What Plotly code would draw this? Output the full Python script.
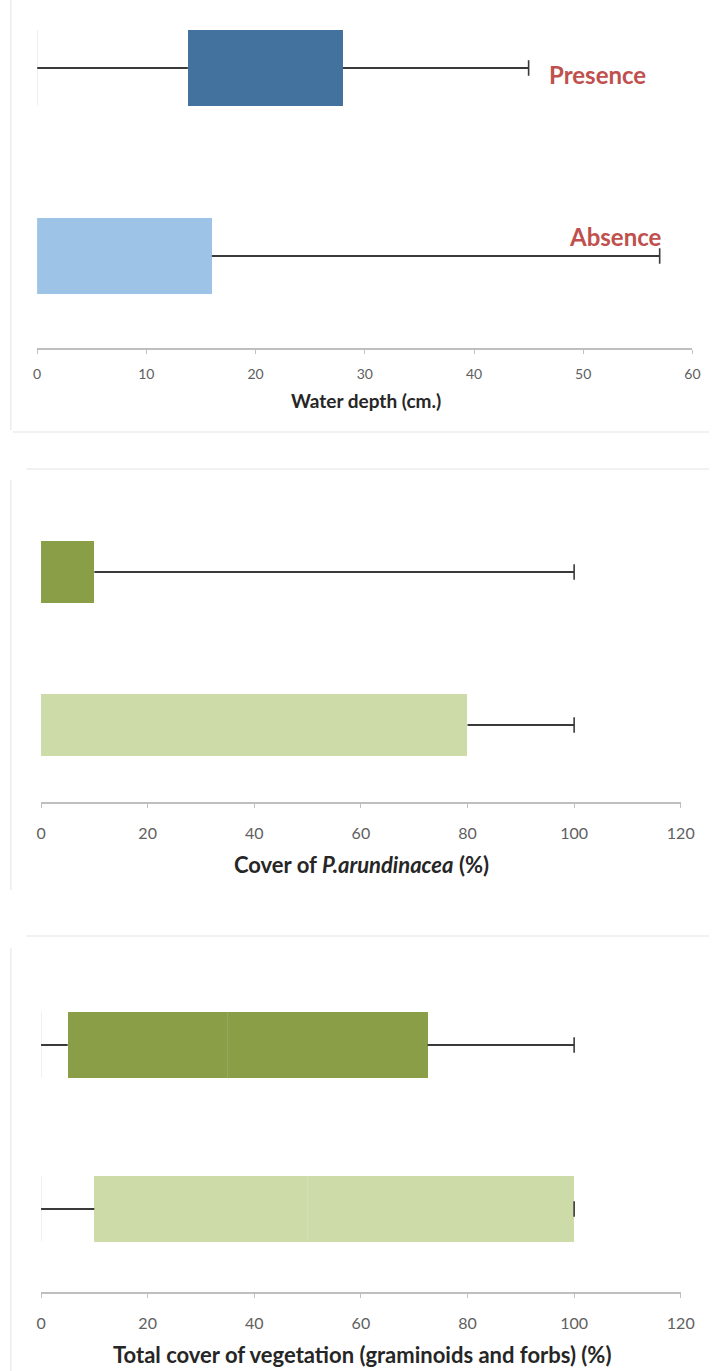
import plotly.graph_objects as go

# ---------------- data ----------------
groups = ["Absence", "Presence"]

# Panel 1: water depth (cm)
depth_min = [0, 0]
depth_q1 = [0, 13.8]
depth_q3 = [16, 28]
depth_max = [57, 45]
depth_ticks = [0, 10, 20, 30, 40, 50, 60]

# Panel 2: cover of P. arundinacea (%)
cover_q1 = [0, 0]
cover_q3 = [80, 10]
cover_max = [100, 100]
cover_ticks = [0, 20, 40, 60, 80, 100, 120]

# Panel 3: total vegetation cover (%)
veg_min = [0, 0]
veg_q1 = [10, 5]
veg_med = [50, 35]
veg_q3 = [100, 72.5]
veg_max = [100, 100]
veg_ticks = [0, 20, 40, 60, 80, 100, 120]

blue_colors = ["#9dc3e6", "#44729f"]
green_colors = ["#cddba9", "#8a9e48"]

W, H = 723, 1371
FONT = "Lato, 'Open Sans', sans-serif"

fig = go.Figure()


def py(p):
    return 1 - p / H


def add_panel(idx, qmin, q1, q3, qmax, colors, med=None):
    xa = "x" if idx == 1 else f"x{idx}"
    ya = "y" if idx == 1 else f"y{idx}"
    for i, g in enumerate(groups):
        # faint base line at the minimum (invisible first segment edge)
        if qmin is not None and qmin[i] < q1[i]:
            fig.add_trace(go.Scatter(
                x=[qmin[i], qmin[i]], y=[i - 0.2, i + 0.2], mode="lines",
                line=dict(color="#ebebeb", width=1.5),
                xaxis=xa, yaxis=ya, showlegend=False, hoverinfo="skip"))
        fig.add_trace(go.Bar(
            y=[i], x=[q3[i] - q1[i]], base=[q1[i]], orientation="h",
            width=0.40, marker=dict(color=colors[i], line=dict(width=0)),
            xaxis=xa, yaxis=ya, showlegend=False, hoverinfo="skip"))
        xs, ys = [], []
        if qmin is not None and qmin[i] < q1[i]:
            xs += [qmin[i], q1[i], None]
            ys += [i, i, None]
        xs += [q3[i], qmax[i]]
        ys += [i, i]
        fig.add_trace(go.Scatter(
            x=xs, y=ys, mode="lines", line=dict(color="#3a3a3a", width=2),
            xaxis=xa, yaxis=ya, showlegend=False, hoverinfo="skip"))
        fig.add_trace(go.Scatter(
            x=[qmax[i]], y=[i], mode="markers",
            marker=dict(symbol="line-ns", size=11,
                        line=dict(color="#3a3a3a", width=1.6)),
            xaxis=xa, yaxis=ya, showlegend=False, hoverinfo="skip"))
        if med is not None:
            fig.add_trace(go.Scatter(
                x=[med[i], med[i]], y=[i - 0.2, i + 0.2], mode="lines",
                line=dict(color="rgba(255,255,255,0.12)", width=1),
                xaxis=xa, yaxis=ya, showlegend=False, hoverinfo="skip"))


add_panel(1, depth_min, depth_q1, depth_q3, depth_max, blue_colors)
add_panel(2, None, cover_q1, cover_q3, cover_max, green_colors)
add_panel(3, veg_min, veg_q1, veg_q3, veg_max, green_colors, med=veg_med)

axis_common = dict(
    showgrid=False, zeroline=False, showline=True, linecolor="#bfbfbf",
    linewidth=1.5, ticks="outside", ticklen=4, tickcolor="#bfbfbf",
    tickwidth=1,
)
yaxis_common = dict(visible=False, showgrid=False, zeroline=False, fixedrange=True)

fig.update_layout(
    width=W, height=H, margin=dict(l=0, r=0, t=0, b=0),
    paper_bgcolor="white", plot_bgcolor="white", bargap=0,
    font=dict(family=FONT),
    xaxis=dict(axis_common, domain=[33 / W, 706 / W], range=[0, 60],
               tickvals=depth_ticks, ticklabelstandoff=8,
               tickfont=dict(family=FONT, color="#606060", size=14),
               anchor="y"),
    yaxis=dict(yaxis_common, domain=[py(348), py(20)], range=[-0.489, 1.255], anchor="x"),
    xaxis2=dict(axis_common, domain=[37 / W, 694 / W], range=[0, 120],
                tickvals=cover_ticks, ticklabelstandoff=12,
                tickfont=dict(family=FONT, color="#606060", size=16),
                anchor="y2"),
    yaxis2=dict(yaxis_common, domain=[py(802), py(490)], range=[-0.503, 1.536], anchor="x2"),
    xaxis3=dict(axis_common, domain=[37 / W, 694 / W], range=[0, 120],
                tickvals=veg_ticks, ticklabelstandoff=12,
                tickfont=dict(family=FONT, color="#606060", size=16),
                anchor="y3"),
    yaxis3=dict(yaxis_common, domain=[py(1292), py(955)], range=[-0.506, 1.549], anchor="x3"),
)

# group labels
fig.add_annotation(x=46.7, y=1, xref="x", yref="y", text="<b>Presence</b>",
                   showarrow=False, xanchor="left", yanchor="middle", yshift=-7,
                   font=dict(family=FONT, size=24, color="#c0504d"))
fig.add_annotation(x=57.4, y=0, xref="x", yref="y", text="<b>Absence</b>",
                   showarrow=False, xanchor="right", yanchor="middle", yshift=20,
                   font=dict(family=FONT, size=24, color="#c0504d"))

# axis titles
titles = [
    ("<b>Water depth (cm.)</b>", 371, 401, 19),
    ("<b>Cover of <i>P.arundinacea</i> (%)</b>", 366, 864, 22),
    ("<b>Total cover of vegetation (graminoids and forbs) (%)</b>", 367, 1354, 22),
]
for txt, cx, cy, sz in titles:
    fig.add_annotation(x=cx / W, y=py(cy), xref="paper", yref="paper", text=txt,
                       showarrow=False, xanchor="center", yanchor="middle",
                       font=dict(family=FONT, size=sz, color="#262626"))

# faint panel frames
frame = dict(color="#ececec", width=1.5)
for x0, y0, x1, y1 in [
    (6, 0, 6, 430), (8, 432, W, 432),
    (22, 469, W, 469), (6, 480, 6, 890),
    (22, 936, W, 936), (6, 948, 6, H),
]:
    fig.add_shape(type="line", xref="paper", yref="paper",
                  x0=x0 / W, x1=x1 / W, y0=py(y0), y1=py(y1), line=frame)

fig.write_html("out.html")
